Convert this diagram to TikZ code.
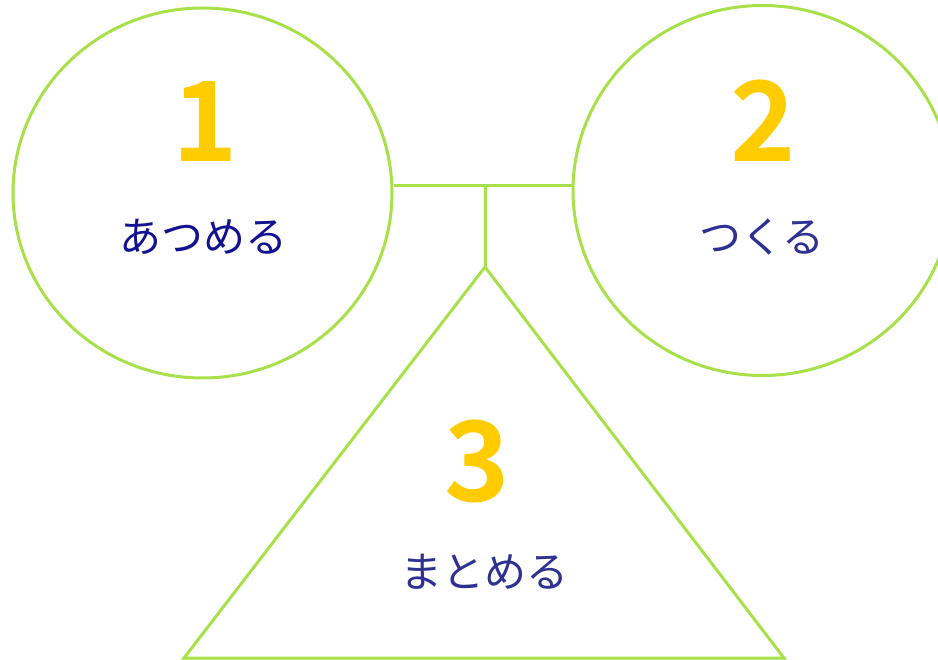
\documentclass[tikz,border=0pt]{standalone}
\usepackage{fontspec}
\newfontfamily\jp{Noto Sans CJK JP}
\newfontfamily\jpb{Noto Sans CJK JP Bold}
\usetikzlibrary{shapes.geometric}
\definecolor{lime}{HTML}{A8E04A}
\definecolor{gold}{HTML}{FFCC00}
\definecolor{navy}{HTML}{2E3192}
\definecolor{deepnavy}{HTML}{121290}
\tikzset{
  ring/.style={draw=lime, line width=3pt, ellipse, inner sep=0pt, minimum width=379pt, minimum height=370pt},
  link/.style={draw=lime, line width=3pt},
  num/.style={text=gold, font=\jpb\fontsize{111}{111}\selectfont, inner sep=0pt},
  word/.style={text=navy, font=\jp\fontsize{42}{42}\selectfont, inner sep=0pt}
}
\begin{document}
\begin{tikzpicture}[x=1pt, y=-1pt]
\useasboundingbox (0,0) rectangle (938,660);
\node[ring] (c1) at (202.5,193) {};
\node[ring] (c2) at (762.5,190.5) {};
\coordinate (j) at (485,186);
\coordinate (apex) at (485,267);
\coordinate (bl) at (184,658);
\coordinate (br) at (784,658);
\draw[link] (j -| c1.east) -- (j -| c2.west);
\draw[link] (j) -- (apex);
\draw[link, line join=miter] (apex) -- (br) -- (bl) -- cycle;
\node[num] (n1) at (205,121) {1};
\node[word, text=deepnavy] (w1) at (203,237) {あつめる};
\node[num] (n2) at (763,121) {2};
\node[word] (w2) at (762,237) {つくる};
\node[num] (n3) at (477,461) {3};
\node[word] (w3) at (484,572) {まとめる};
\end{tikzpicture}
\end{document}
